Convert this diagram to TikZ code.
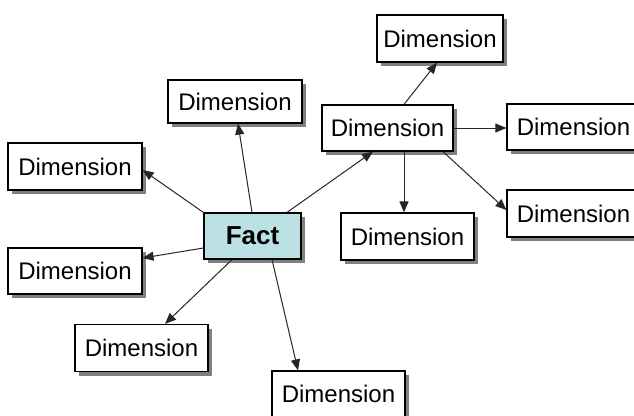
\documentclass[tikz,border=0pt]{standalone}
\usepackage{fontspec}
\setmainfont{Liberation Sans}
\usetikzlibrary{arrows.meta,shadows}
\definecolor{factfill}{RGB}{187,225,228}
\definecolor{shadowgray}{RGB}{128,128,128}
\begin{document}
\begin{tikzpicture}[x=1pt,y=-1pt,
  box/.style={draw=black,line width=1.2pt,fill=white,inner sep=0pt,
    minimum width=133pt,minimum height=46pt,
    font=\fontsize{24}{28}\selectfont,
    drop shadow={shadow xshift=4pt,shadow yshift=-4pt,fill=shadowgray,opacity=1}},
  factbox/.style={box,fill=factfill,minimum width=97pt,
    font=\fontsize{26}{30}\selectfont\bfseries},
  arr/.style={draw=black!85,line width=1pt,-{Triangle[length=11pt,width=9pt]}}]
\useasboundingbox (0,0) rectangle (634,415);
\clip (0,0) rectangle (634,415);
\fill[white] (0,0) rectangle (634,415);

\node[factbox] (fact) at (252.5,236) {Fact};
\node[box,minimum width=134pt,minimum height=43pt] (d1) at (235,101.5) {Dimension};
\node[box,minimum width=134pt,minimum height=47pt] (d2) at (75,166.5) {Dimension};
\node[box,minimum width=134pt] (d3) at (75,271) {Dimension};
\node[box,minimum height=47pt] (d4) at (141.5,348) {Dimension};
\node[box] (d5) at (338.5,394) {Dimension};
\node[box,minimum width=131pt] (hub) at (387.5,128) {Dimension};
\node[box,minimum width=126pt,minimum height=47pt] (top) at (440,38.5) {Dimension};
\node[box] (right) at (573.5,127) {Dimension};
\node[box,minimum height=47pt] (rlow) at (573.5,213.5) {Dimension};
\node[box,minimum height=47pt] (under) at (407.5,236.5) {Dimension};

\draw[arr] ([xshift=-0.5pt]fact.north) -- ([xshift=3pt]d1.south);
\draw[arr] (fact.north west) -- ([yshift=-3.5pt]d2.east);
\draw[arr] ([yshift=-12pt]fact.west) -- ([yshift=13pt]d3.east);
\draw[arr] ([xshift=-20.5pt]fact.south) -- ([xshift=23.5pt]d4.north);
\draw[arr] ([xshift=19.5pt]fact.south) -- ([xshift=-40.5pt]d5.north);
\draw[arr] ([xshift=34.5pt]fact.north) -- ([xshift=-14.5pt]hub.south);
\draw[arr] ([xshift=16.5pt]hub.north) -- ([xshift=-3pt]top.south);
\draw[arr] (hub.east) -- (hub.east -| right.west);
\draw[arr] ([xshift=16.5pt]hub.south) -- ([xshift=-3.5pt]under.north);
\draw[arr] ([xshift=55.5pt]hub.south) -- ([yshift=3.5pt]rlow.west);
\end{tikzpicture}
\end{document}
